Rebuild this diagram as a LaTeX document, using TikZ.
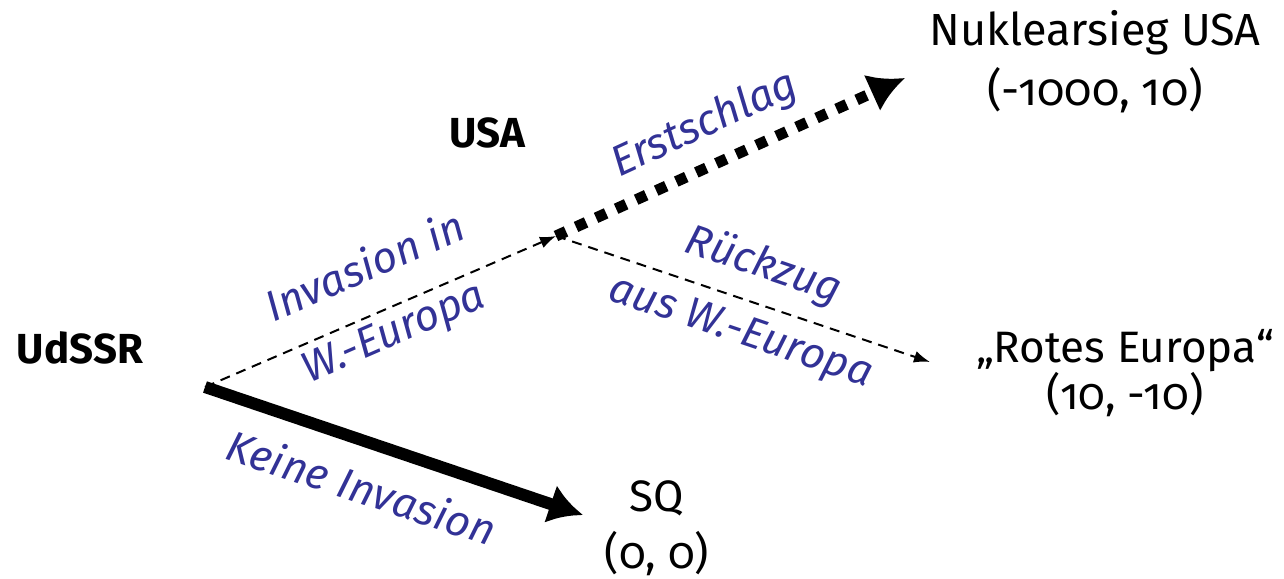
\documentclass[tikz,border=0pt]{standalone}
\usepackage{fontspec}
\setmainfont{Fira Sans}[Numbers=OldStyle]
\usetikzlibrary{arrows.meta}
\definecolor{lblue}{RGB}{50,50,150}
\tikzset{
  outcome/.style={align=center, inner sep=0pt},
  player/.style={font=\fontsize{42}{46}\selectfont\bfseries, inner sep=0pt},
  movelbl/.style={align=center, text=lblue, font=\fontsize{43}{70}\selectfont\itshape, inner sep=0pt},
  thinmove/.style={line width=2pt, dash pattern=on 10pt off 7pt, -{Latex[length=16pt,width=12pt]}},
  thickmove/.style={line width=12pt, -{Latex[length=34pt,width=40pt]}},
  dotmove/.style={line width=11pt, dash pattern=on 11pt off 11pt, -{Latex[length=36pt,width=40pt]}}
}
\begin{document}
\begin{tikzpicture}[x=1pt,y=-1pt]
\useasboundingbox (0,0) rectangle (1284,578);
% players
\node[player] (udssr) at (80,348) {UdSSR};
\node[player] (usa) at (487,133) {USA};
% decision points
\coordinate (r) at (205,387);
\coordinate (u) at (556,236);
% arrow ends
\coordinate (eSQ) at (583,515);
\coordinate (eN) at (905,78);
\coordinate (eR) at (930,362);
% outcomes
\node[outcome, font=\fontsize{45}{60}\selectfont] (nuk) at (1095,62) {Nuklearsieg USA\\(-1000, 10)};
\node[outcome, font=\fontsize{44}{43}\selectfont] (rot) at (1125,373) {„Rotes Europa“\\(10, -10)};
\node[outcome, font=\fontsize{44}{57}\selectfont] (sq) at (657,528) {SQ\\(0, 0)};
% moves
\draw[thickmove] (r) -- (eSQ);
\draw[thinmove] (r) -- (u);
\draw[dotmove] (u) -- (eN);
\draw[thinmove] (u) -- (eR);
% labels
\node[movelbl, rotate=23.5] (l1) at (380,301) {Invasion in\\W.-Europa};
\node[movelbl, rotate=24.7] (l2) at (705,125) {Erstschlag};
\node[movelbl, rotate=-18.7] (l3) at (752,299) {Rückzug\\aus W.-Europa};
\node[movelbl, rotate=-18.3] (l4) at (362,487) {Keine Invasion};
\end{tikzpicture}
\end{document}
